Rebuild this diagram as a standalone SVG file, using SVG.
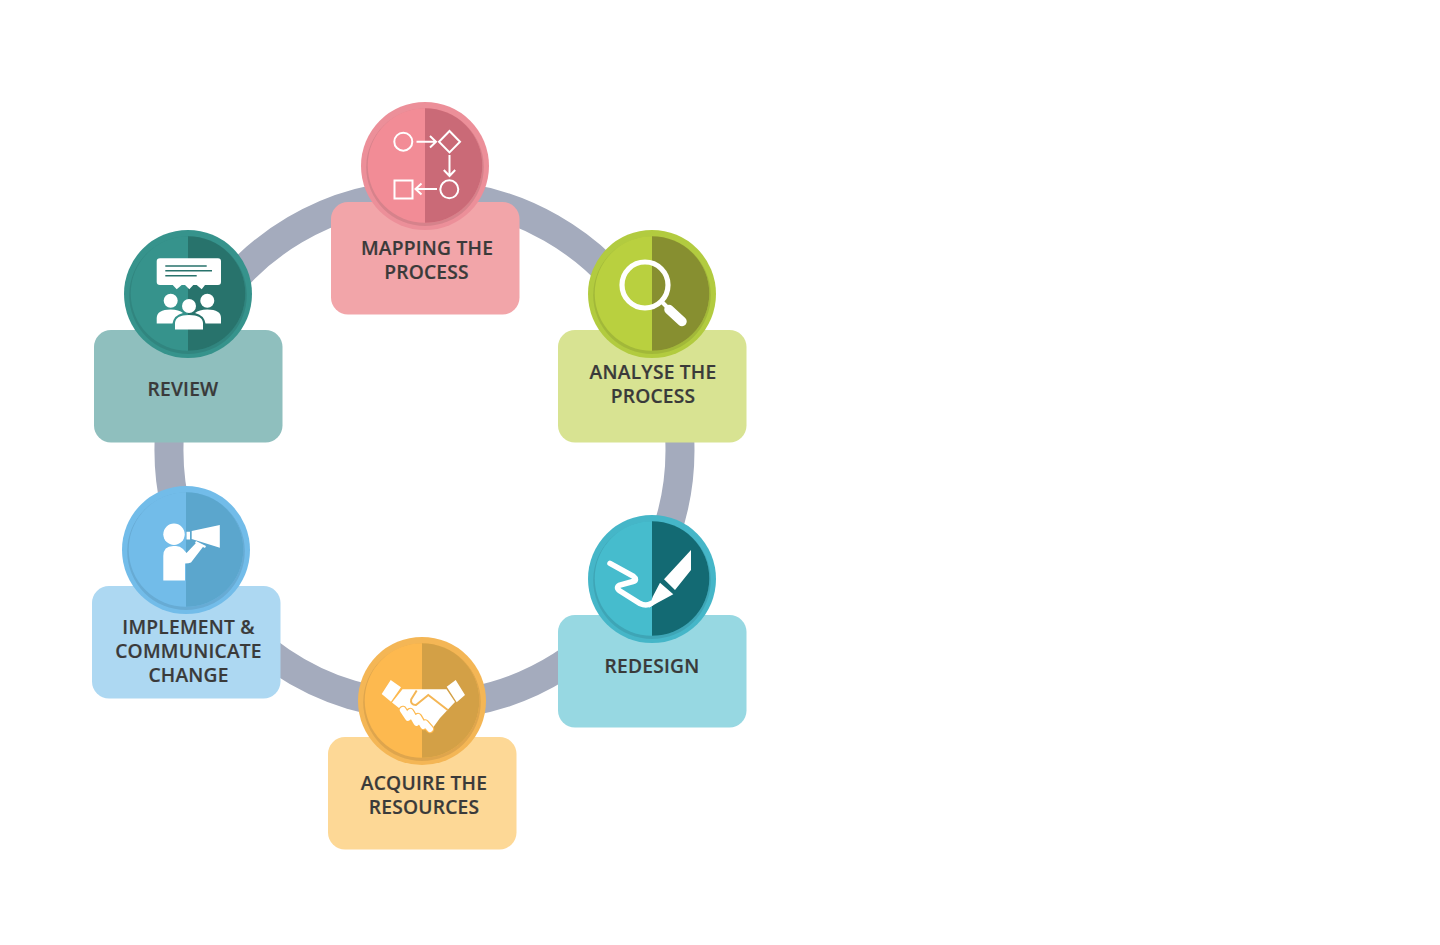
<svg xmlns="http://www.w3.org/2000/svg" width="1440" height="945" viewBox="0 0 1440 945">
<style>
text{font-family:"Open Sans","Liberation Sans",sans-serif;font-weight:600;font-size:19.2px;letter-spacing:.22px;fill:#3a3a3a;stroke:#3a3a3a;stroke-width:.2px;text-anchor:middle}
.arc{fill:none;stroke:#a4abbd;stroke-width:29}
.card{width:188.5px;height:112.5px;rx:17px;ry:17px}
.ln{fill:none;stroke:#fff;stroke-width:2}
.w{fill:#fff}
</style>
<defs>
<circle id="halo" r="64"/>
<circle id="shade" r="58.800" cy="1.300" fill="#000" opacity=".09"/>
<circle id="disc" r="57.300" cy="-.5"/>
<path id="half" d="M0-57.800A57.300 57.300 0 0 1 0 56.800Z"/>
</defs>
<rect width="1440" height="945" fill="#fff"/>
<g id="connectors">
<path class="arc" d="M424.500 194.500A255.500 255.500 0 0 1 644.600 320.300"/>
<path class="arc" d="M644.600 320.300A255.500 255.500 0 0 1 655.100 560"/>
<path class="arc" d="M655.100 560A255.500 255.500 0 0 1 424.500 705.500"/>
<path class="arc" d="M424.500 705.500A255.500 255.500 0 0 1 187.100 544.500"/>
<path class="arc" d="M187.100 544.500A255.500 255.500 0 0 1 201 326.100"/>
<path class="arc" d="M201 326.100A255.500 255.500 0 0 1 424.500 194.500"/>
</g>
<g id="node-mapping">
<rect class="card" x="331" y="202" fill="#f2a5a9"/>
<g transform="translate(425 166)"><use href="#halo" fill="#ec8f99"/><use href="#shade"/><use href="#disc" fill="#f28c96"/><use href="#half" fill="#ca6a77"/></g>
<circle class="ln" cx="403.300" cy="141.700" r="9"/>
<path class="ln" d="M449.500 131l10.500 10.700-10.500 10.700-10.500-10.700Z"/>
<rect class="ln" x="394.500" y="180.500" width="18" height="18"/>
<circle class="ln" cx="449.300" cy="189.300" r="9"/>
<path class="ln" d="M416.500 141.700H436M430 136l6 5.700-6 5.700M449.500 155V176M443.800 170l5.700 6 5.700-6M437 189H415.500M421.500 183.500l-6 5.500 6 5.500"/>
<text x="427" y="255">MAPPING THE</text>
<text x="426.500" y="279">PROCESS</text>
</g>
<g id="node-analyse">
<rect class="card" x="558" y="330" fill="#d8e392"/>
<g transform="translate(652 294)"><use href="#halo" fill="#b2cb3f"/><use href="#shade"/><use href="#disc" fill="#b9d03f"/><use href="#half" fill="#878f30"/></g>
<circle cx="645" cy="285" r="23" fill="none" stroke="#fff" stroke-width="5.200"/>
<path d="M661 301l8 8" stroke="#fff" stroke-width="4" fill="none"/>
<path d="M669 309.500l13 12" stroke="#fff" stroke-width="9.500" stroke-linecap="round" fill="none"/>
<text x="653" y="378.500">ANALYSE THE</text>
<text x="653" y="402.500">PROCESS</text>
</g>
<g id="node-redesign">
<rect class="card" x="558" y="615" fill="#97d8e2"/>
<g transform="translate(652 579)"><use href="#halo" fill="#45b6c8"/><use href="#shade"/><use href="#disc" fill="#46bccd"/><use href="#half" fill="#136a73"/></g>
<path d="M610 563.300L633 576Q638 580 633 581.500L620 585Q615 587.500 620 591L640 603.500Q646 606.500 651 603.500" fill="none" stroke="#fff" stroke-width="5.500" stroke-linecap="round"/>
<path class="w" d="M691 550V570L675 590 664 579.300ZM660 582.700L673.300 594.300 656.700 603.300 649 607.700 652.700 596.700Z"/>
<text x="652" y="673">REDESIGN</text>
</g>
<g id="node-acquire">
<rect class="card" x="328" y="737" fill="#fdd896"/>
<g transform="translate(422 701)"><use href="#halo" fill="#f4b655"/><use href="#shade"/><use href="#disc" fill="#fdb94f"/><use href="#half" fill="#d3a046"/></g>
<path class="w" d="M390.700 680L401 687.300 391 701.700 381.700 694ZM455.700 680L465 695 456.700 702.300 446.700 686.700Z"/>
<path class="w" d="M402.500 689.300H446.500L455 702 447.500 710 440 718 432 729 424 729 404 712 392 702.500Z"/>
<path d="M416.700 690.500L411.200 699.300Q410 704.500 416 705L428.300 695 447.700 710" fill="none" stroke="#f4b655" stroke-width="2"/>
<g fill="none" stroke-linecap="round">
<path d="M402.800 710L408 717.800M410.300 712L416.500 722.800M418 717L423.300 726M425.200 723.500L430 729" stroke="#fdb94f" stroke-width="8.500"/>
<path d="M402.800 710L408 717.800M410.300 712L416.500 722.800M418 717L423.300 726M425.200 723.500L430 729" stroke="#fff" stroke-width="6"/>
</g>
<text x="424" y="790">ACQUIRE THE</text>
<text x="424" y="814">RESOURCES</text>
</g>
<g id="node-implement">
<rect class="card" x="92" y="586" fill="#add8f2"/>
<g transform="translate(186 550)"><use href="#halo" fill="#72bce9"/><use href="#shade"/><use href="#disc" fill="#72bce9"/><use href="#half" fill="#5ba6cd"/></g>
<circle class="w" cx="174" cy="534.300" r="10.700"/>
<path class="w" d="M163.300 580.500V556Q163.300 546 173.300 546H176Q180 546 183 549L186.500 553 196.500 542.500 203.300 546.500 191 562.500Q189 563.500 185 563.500V580.500Z"/>
<path class="w" d="M191.700 531L219.800 525V547.700L191.700 539ZM186.500 531.700H190V539.500H186.500ZM196 541L206 546 205 548 195 543Z"/>
<text x="188.500" y="634">IMPLEMENT &amp;</text>
<text x="188.500" y="658">COMMUNICATE</text>
<text x="188.500" y="682">CHANGE</text>
</g>
<g id="node-review">
<rect class="card" x="94" y="330" fill="#8fbfbe"/>
<g transform="translate(188 294)"><use href="#halo" fill="#36938c"/><use href="#shade"/><use href="#disc" fill="#36938c"/><use href="#half" fill="#28736c"/></g>
<path class="w" d="M160 258.300H218Q221 258.300 221 261.300V282Q221 285 218 285H205L201.700 289.300 196.700 285H193.300L189.300 289.300 185 285H181.700L176.700 289.300 172.700 285H160Q156.700 285 156.700 282V261.300Q156.700 258.300 160 258.300Z"/>
<path d="M165.300 266H206.700M165.300 270.700H212M165.300 275.700H196.700" stroke="#28736c" stroke-width="1.500" fill="none"/>
<circle class="w" cx="170.700" cy="300.700" r="7"/>
<circle class="w" cx="207.300" cy="300.700" r="7"/>
<circle class="w" cx="189" cy="306" r="7"/>
<path class="w" d="M156.700 323.500V318Q157 309.500 170.700 309.500 179 309.500 183 313 174 315 172.500 323.500ZM221 323.500V318Q221 309.500 207.300 309.500 199 309.500 195 313 204 315 205.500 323.500ZM175 329.500V323Q175.500 315 189 315 202.500 315 203 323V329.500Z"/>
<text x="183" y="396">REVIEW</text>
</g>
</svg>
